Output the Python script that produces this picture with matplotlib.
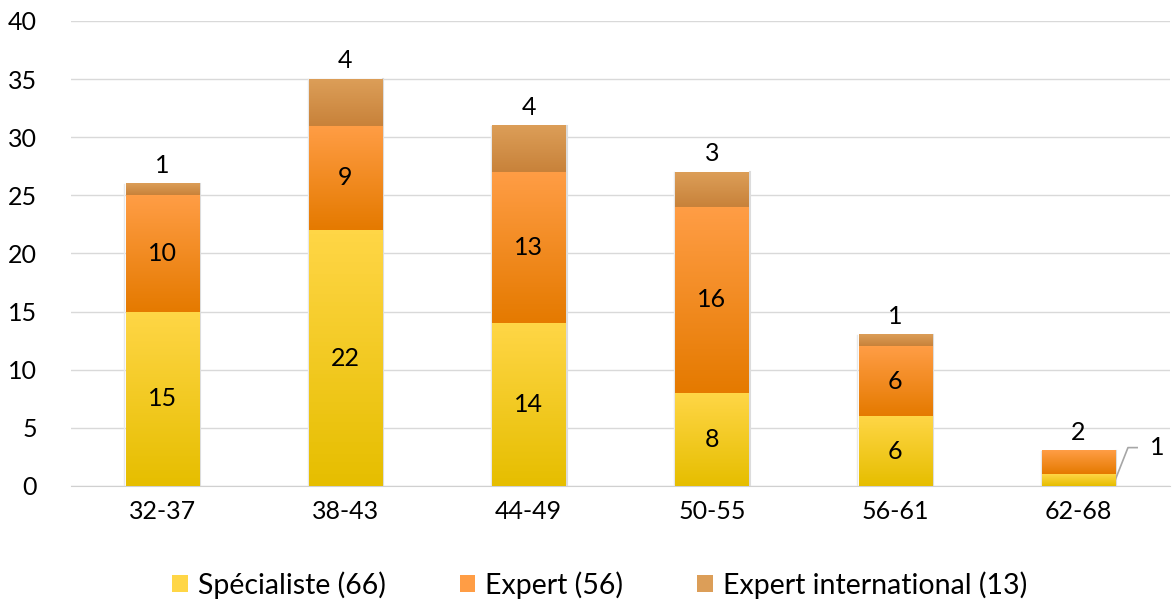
import numpy as np
import matplotlib.pyplot as plt
from matplotlib.colors import LinearSegmentedColormap
from matplotlib.patches import Patch

categories = ['32-37', '38-43', '44-49', '50-55', '56-61', '62-68']
specialiste = [15, 22, 14, 8, 6, 1]
expert = [10, 9, 13, 16, 6, 2]
international = [1, 4, 4, 3, 1, 0]
legend_labels = ['Spécialiste (66)', 'Expert (56)', 'Expert international (13)']

# (top colour, bottom colour) for each series
grads = [('#FFD646', '#E6BE00'), ('#FF9D45', '#E57A00'), ('#DC9E58', '#C8823A')]

plt.rcParams['font.family'] = ['Lato', 'DejaVu Sans']

fig = plt.figure(figsize=(11.76, 6.08), dpi=100)
ax = fig.add_axes([0.060, 0.2007, 0.935, 0.7648])

x = np.arange(len(categories))
w = 0.4
grad = np.linspace(0, 1, 64).reshape(-1, 1)


def gradient_bars(vals, bottoms, colors):
    cmap = LinearSegmentedColormap.from_list('g', [colors[1], colors[0]])
    bars = ax.bar(x, vals, w, bottom=bottoms, color='none', edgecolor='none', zorder=3)
    for b in bars:
        if b.get_height() <= 0:
            continue
        x0, y0 = b.get_x(), b.get_y()
        ax.imshow(grad, cmap=cmap, origin='lower', aspect='auto',
                  extent=(x0, x0 + b.get_width(), y0, y0 + b.get_height()), zorder=3)
    return bars


bottom = np.zeros(len(x))
series = [specialiste, expert, international]
for vals, cols in zip(series, grads):
    gradient_bars(vals, bottom, cols)
    bottom = bottom + np.array(vals)

# light shadow on bar sides
for i in range(len(x)):
    ax.plot([x[i] + w / 2 + 0.007] * 2, [0, bottom[i]], color='#dcdcdc', lw=1.5, zorder=2)
    ax.plot([x[i] - w / 2 - 0.007] * 2, [0, bottom[i]], color='#e8e8e8', lw=1.0, zorder=2)

ax.set_xlim(-0.5, len(x) - 0.5)
ax.set_ylim(0, 40)
ax.set_yticks(range(0, 41, 5))
ax.set_xticks(x)
ax.set_xticklabels(categories)
ax.tick_params(length=0, labelsize=18, colors='black')
ax.tick_params(axis='y', pad=24)
ax.tick_params(axis='x', pad=10)
ax.grid(axis='y', color='#d9d9d9', lw=1, zorder=0)
ax.set_axisbelow(True)
for s in ['top', 'right', 'left']:
    ax.spines[s].set_visible(False)
ax.spines['bottom'].set_color('#d0d0d0')

fs = 18
# data labels
for i in range(len(x)):
    s, e, n = specialiste[i], expert[i], international[i]
    if i < len(x) - 1:
        ax.text(x[i], s / 2, str(s), ha='center', va='center', fontsize=fs, zorder=5)
        ax.text(x[i], s + e / 2, str(e), ha='center', va='center', fontsize=fs, zorder=5)
    if n > 0:
        ax.text(x[i], s + e + n + 0.6, str(n), ha='center', va='bottom', fontsize=fs, zorder=5)

# small last bar: labels outside
i = len(x) - 1
ax.text(x[i], specialiste[i] + expert[i] + 0.6, str(expert[i]), ha='center', va='bottom', fontsize=fs)
ax.plot([x[i] + w / 2, x[i] + w / 2 + 0.07, x[i] + w / 2 + 0.12],
        [0.5, 3.3, 3.3], color='#a6a6a6', lw=1.2, clip_on=False)
ax.text(x[i] + w / 2 + 0.19, 3.3, str(specialiste[i]), ha='left', va='center', fontsize=fs, clip_on=False)

handles = [Patch(facecolor=c[0], edgecolor='none') for c in grads]
fig.legend(handles, legend_labels, loc='center', bbox_to_anchor=(0.51, 0.038), ncol=3,
           frameon=False, fontsize=20.5, handlelength=0.55, handleheight=0.55,
           handletextpad=0.35, columnspacing=2.6)

fig.savefig('out.png', dpi=100)
